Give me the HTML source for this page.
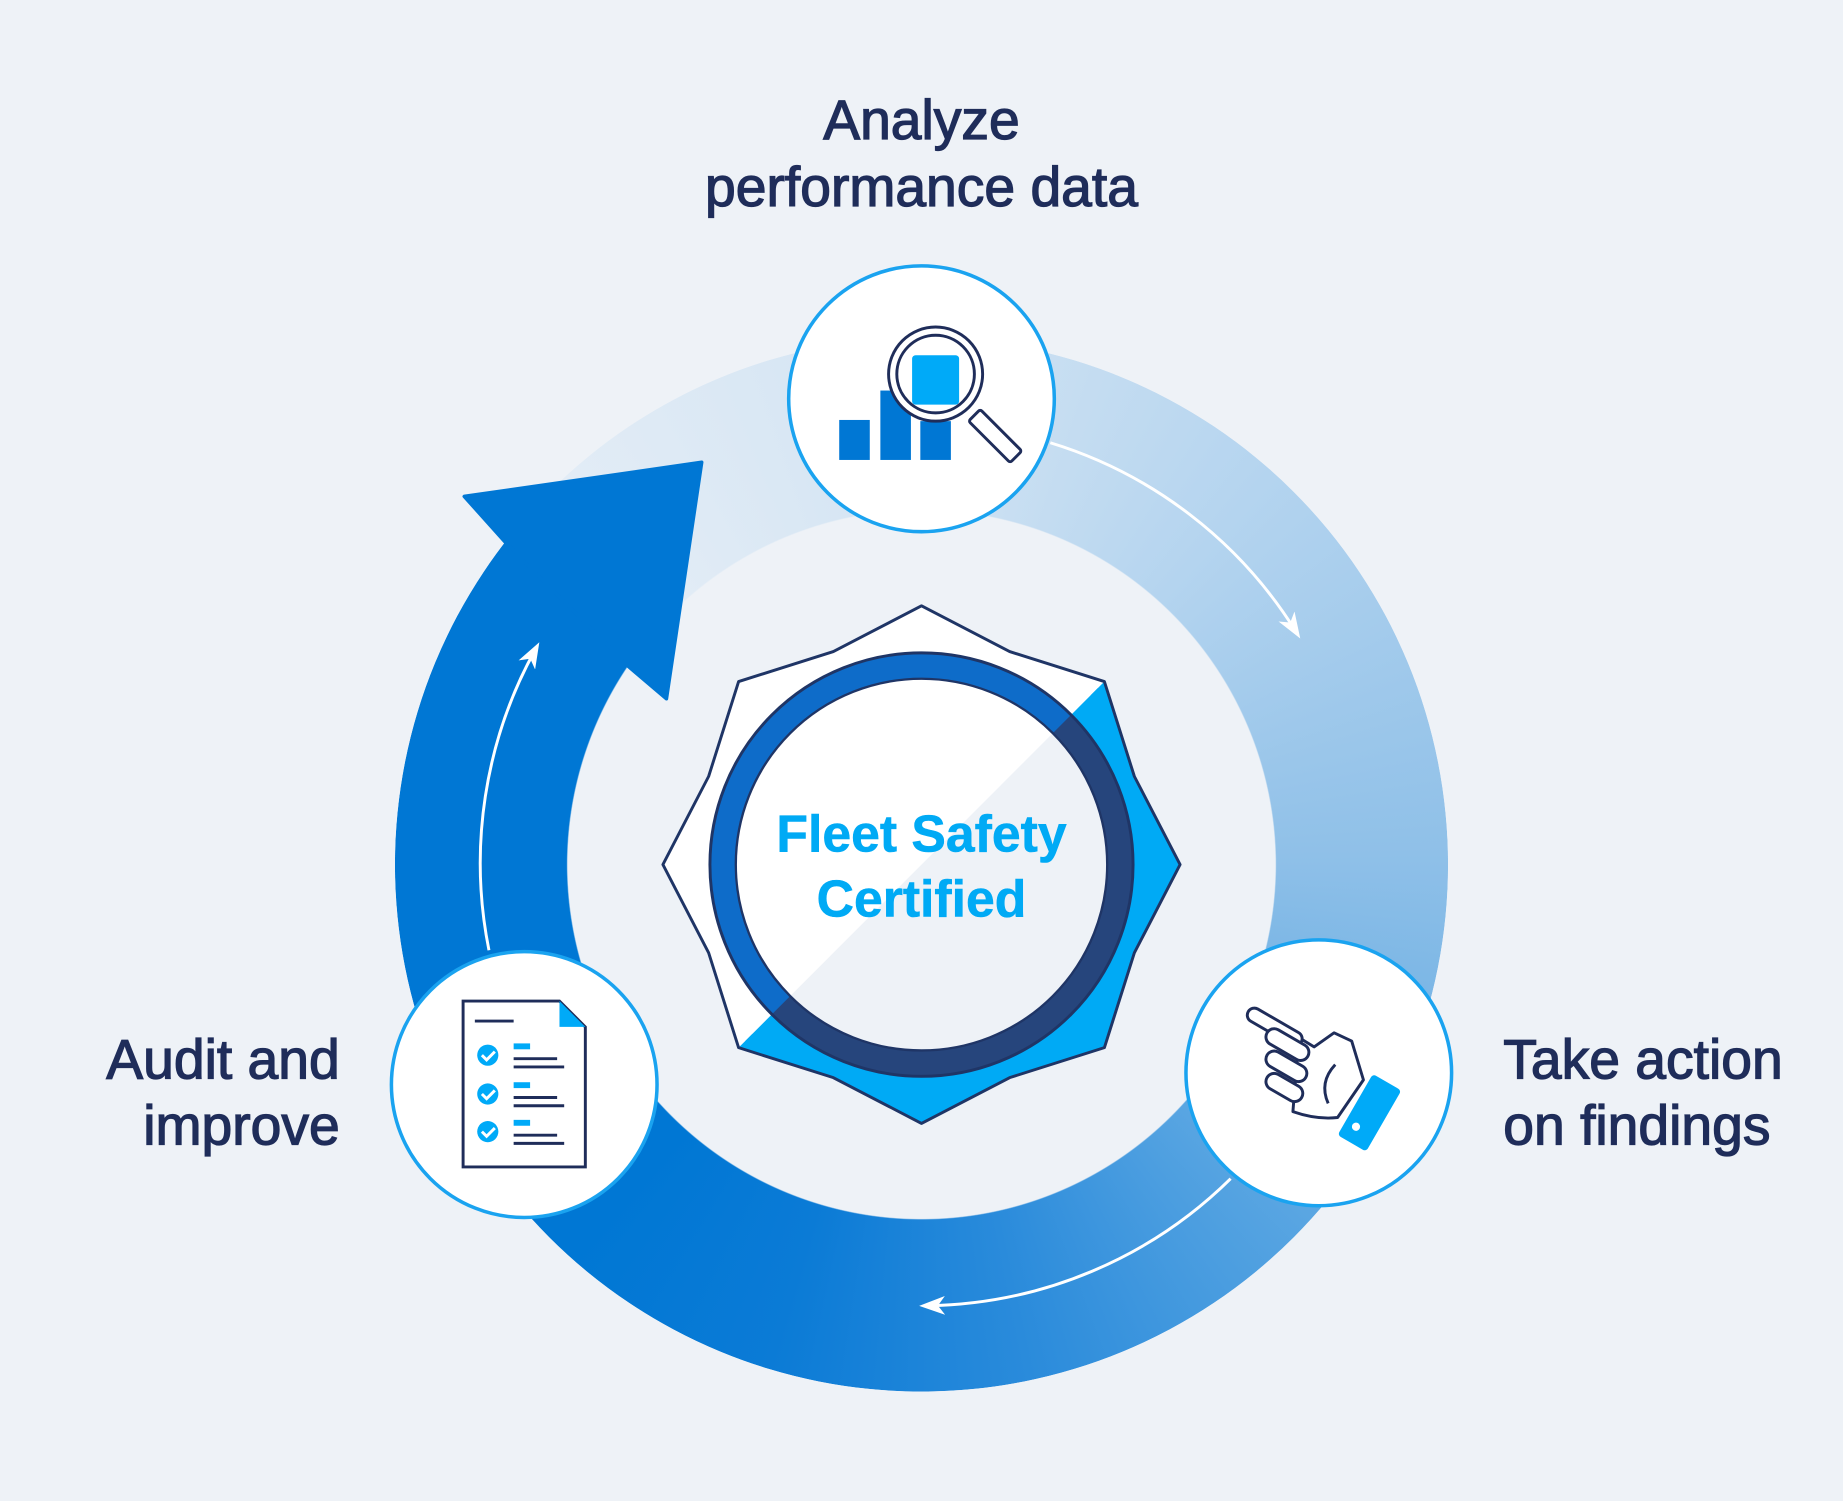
<!DOCTYPE html>
<html><head><meta charset="utf-8"><style>
html,body{margin:0;padding:0;width:1843px;height:1501px;overflow:hidden;background:#eef2f7;}
#wrap{position:absolute;left:0;top:0;width:1568px;height:1276px;transform:scale(1.17538,1.17633);transform-origin:0 0;background:#eef2f7;}
#ring{position:absolute;left:336px;top:287px;width:896px;height:896px;border-radius:50%;
background:conic-gradient(from 312deg,#e4edf6 0%,#d3e4f3 13%,#b4d4ef 25%,#8fc0e8 38%,#5aa6e2 50%,#2a8bdb 60%,#0b7bd6 68%,#0077d4 75%,#0077d4 100%);
-webkit-mask:radial-gradient(circle,transparent 301px,#000 302px);mask:radial-gradient(circle,transparent 301px,#000 302px);}
svg{position:absolute;left:0;top:0;}
.t{font-family:"Liberation Sans",sans-serif;fill:#1f2d5a;stroke:#1f2d5a;stroke-width:1.1;font-size:47px;}
</style></head><body><div id="wrap">
<div id="ring"></div>
<svg width="1568" height="1276" viewBox="0 0 1568 1276">
<defs>
<marker id="ah" markerWidth="24" markerHeight="16" refX="14" refY="8" orient="auto" markerUnits="userSpaceOnUse">
<path d="M0 0 L22 8 L0 16 L6 8 Z" fill="#fff"/></marker>
<clipPath id="lr"><polygon points="1519,0 1568,0 1568,1276 243,1276"/></clipPath>
</defs>
<polygon points="430,461 395,422 597,393 567,594 534,566" fill="#0077d4" stroke="#0077d4" stroke-width="3" stroke-linejoin="round"/>
<g fill="none" stroke="#fff" stroke-width="2.5">
<path d="M893.6 376.4 A375 375 0 0 1 1102 536" marker-end="url(#ah)"/>
<path d="M1047 1002 A375 375 0 0 1 790 1110" marker-end="url(#ah)"/>
<path d="M416 807.8 A375 375 0 0 1 455 553" marker-end="url(#ah)"/>
</g>
<!-- badge -->
<polygon points="784,515 859,553.9 939.6,579.4 965.1,660 1004,735 965.1,810 939.6,890.6 859,916.1 784,955 709,916.1 628.4,890.6 602.9,810 564,735 602.9,660 628.4,579.4 709,553.9" fill="#fff" stroke="#fff" stroke-width="16" stroke-linejoin="round" transform="translate(784 735) scale(0.965) translate(-784 -735)"/>
<polygon points="784,515 859,553.9 939.6,579.4 965.1,660 1004,735 965.1,810 939.6,890.6 859,916.1 784,955 709,916.1 628.4,890.6 602.9,810 564,735 602.9,660 628.4,579.4 709,553.9" fill="#00aaf5" stroke="#00aaf5" stroke-width="16" stroke-linejoin="round" clip-path="url(#lr)" transform="translate(784 735) scale(0.965) translate(-784 -735)"/>
<polygon points="784,515 859,553.9 939.6,579.4 965.1,660 1004,735 965.1,810 939.6,890.6 859,916.1 784,955 709,916.1 628.4,890.6 602.9,810 564,735 602.9,660 628.4,579.4 709,553.9" fill="none" stroke="#1f3566" stroke-width="2.5" stroke-linejoin="round"/>
<circle cx="784" cy="735" r="169" fill="none" stroke="#0e6cc9" stroke-width="22"/>
<circle cx="784" cy="735" r="169" fill="none" stroke="#26457c" stroke-width="22" clip-path="url(#lr)"/>
<circle cx="784" cy="735" r="158" fill="#fff"/>
<circle cx="784" cy="735" r="158" fill="#eef2f7" clip-path="url(#lr)"/>
<circle cx="784" cy="735" r="180" fill="none" stroke="#1f3566" stroke-width="2.5"/>
<circle cx="784" cy="735" r="158" fill="none" stroke="#1f3566" stroke-width="2"/>
<text x="784" y="724" text-anchor="middle" font-family="Liberation Sans,sans-serif" font-weight="bold" font-size="44" fill="#00aaf5" stroke="#00aaf5" stroke-width="0.5">Fleet Safety</text>
<text x="784" y="779" text-anchor="middle" font-family="Liberation Sans,sans-serif" font-weight="bold" font-size="44" fill="#00aaf5" stroke="#00aaf5" stroke-width="0.5">Certified</text>
<!-- circles -->
<g fill="#fff" stroke="#1aa3f0" stroke-width="3">
<circle cx="784" cy="339" r="113"/><circle cx="446" cy="922" r="113"/><circle cx="1122" cy="912" r="113"/>
</g>
<!-- top icon -->
<rect x="714" y="357" width="26" height="34" fill="#0077d4"/>
<rect x="749" y="332" width="26" height="59" fill="#0077d4"/>
<rect x="783" y="358" width="26" height="33" fill="#0077d4"/>
<circle cx="796" cy="318" r="40" fill="#fff" stroke="#1f2d5a" stroke-width="2.5"/>
<circle cx="796" cy="318" r="33" fill="#fff" stroke="#1f2d5a" stroke-width="2.5"/>
<rect x="776" y="302" width="40" height="42" rx="3" fill="#00aaf8"/>
<g transform="translate(829,353) rotate(45)"><rect x="0" y="-7" width="50" height="14" rx="2" fill="#fff" stroke="#1f2d5a" stroke-width="2.5"/></g>
<!-- document -->
<path d="M394 851 H476 L498 873 V992 H394 Z" fill="#fff" stroke="#1f2d5a" stroke-width="2.5"/>
<path d="M476 851 V873 H498 Z" fill="#00aaf8"/>
<line x1="404" y1="868" x2="437" y2="868" stroke="#1f2d5a" stroke-width="2.5"/>
<g fill="#00aaf8"><circle cx="415" cy="897" r="9"/><circle cx="415" cy="930" r="9"/><circle cx="415" cy="962" r="9"/>
<rect x="437" y="887" width="14" height="5"/><rect x="437" y="920" width="14" height="5"/><rect x="437" y="952" width="14" height="5"/></g>
<g fill="none" stroke="#fff" stroke-width="2.5"><path d="M410 897 l4 4 l7 -7"/><path d="M410 930 l4 4 l7 -7"/><path d="M410 962 l4 4 l7 -7"/></g>
<g stroke="#1f2d5a" stroke-width="2.5"><line x1="437" y1="900" x2="474" y2="900"/><line x1="437" y1="907" x2="480" y2="907"/>
<line x1="437" y1="933" x2="474" y2="933"/><line x1="437" y1="940" x2="480" y2="940"/>
<line x1="437" y1="965" x2="474" y2="965"/><line x1="437" y1="972" x2="480" y2="972"/></g>
<!-- hand -->
<g fill="#fff" stroke="#1f2d5a" stroke-width="2.5" stroke-linejoin="round">
<path d="M1100 945 Q1120 952 1138 950 L1160 918 L1150 885 L1135 878 L1118 890 L1105 882 Z"/>
<g transform="translate(1062,860) rotate(30)"><rect x="0" y="-6" width="52" height="12" rx="6"/></g>
<g transform="translate(1078,878) rotate(30)"><rect x="0" y="-7" width="40" height="14" rx="7"/></g>
<g transform="translate(1078,897) rotate(30)"><rect x="0" y="-7" width="38" height="14" rx="7"/></g>
<g transform="translate(1078,916) rotate(30)"><rect x="0" y="-7" width="34" height="14" rx="7"/></g>
<path d="M1130 938 Q1122 920 1136 905" fill="none"/>
</g>
<g transform="translate(1168,913) rotate(30)"><rect x="0" y="0" width="28" height="60" rx="3" fill="#00aaf8"/><circle cx="10" cy="46" r="3.5" fill="#fff"/></g>
<!-- labels -->
<text class="t" x="784" y="118" text-anchor="middle">Analyze</text>
<text class="t" x="784" y="175" text-anchor="middle">performance data</text>
<text class="t" x="289" y="917" text-anchor="end">Audit and</text>
<text class="t" x="289" y="973" text-anchor="end">improve</text>
<text class="t" x="1279" y="917">Take action</text>
<text class="t" x="1279" y="973">on findings</text>
</svg>
</div></body></html>
